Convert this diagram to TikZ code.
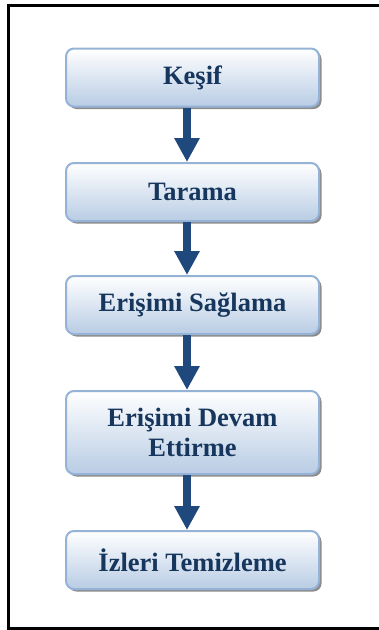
\documentclass[tikz,border=0pt]{standalone}
\usepackage{fontspec}
\setmainfont{Liberation Serif}
\usepackage{tikz}
\usetikzlibrary{arrows.meta}
\usetikzlibrary{shadows}
\definecolor{boxline}{RGB}{149,179,215}
\definecolor{boxbot}{RGB}{184,204,228}
\definecolor{navytext}{RGB}{23,54,93}
\definecolor{arrowblue}{RGB}{31,73,125}

\begin{document}
\begin{tikzpicture}[x=1pt,y=-1pt,
    phase node/.style={rectangle,rounded corners=8pt,draw=boxline,line width=2pt,
      top color=white,middle color=boxbot!35!white,bottom color=boxbot,
      drop shadow={shadow xshift=2.5pt,shadow yshift=-2.5pt,fill=black!45,opacity=1},
      minimum width=253pt,minimum height=58pt,align=center,text=navytext,
      font=\bfseries\fontsize{26.5}{30}\selectfont},
    phase arrow/.style={-{Triangle[width=24pt,length=24pt]},line width=8pt,draw=arrowblue}]
  \clip (0,0) rectangle (379,630);
  % frame, open on the right
  \draw[line width=2.5pt] (379,5.5) -- (8.5,5.5) -- (8.5,628.5) -- (379,628.5);

  \node[phase node] (kesif) at (192.5,77.5) {Keşif};
  \node[phase node] (tarama) at (192.5,192) {Tarama};
  \node[phase node] (erisim) at (192.5,305) {Erişimi Sağlama};
  \node[phase node,minimum height=83pt] (devam) at (192.5,432.5) {Erişimi Devam\\Ettirme};
  \node[phase node] (iz) at (192.5,560) {İzleri Temizleme};

  \foreach \a/\b in {kesif/tarama,tarama/erisim,erisim/devam,devam/iz}
    \draw[phase arrow] ([xshift=-5.5pt]\a.south) -- ([xshift=-5.5pt]\b.north);
\end{tikzpicture}
\end{document}
